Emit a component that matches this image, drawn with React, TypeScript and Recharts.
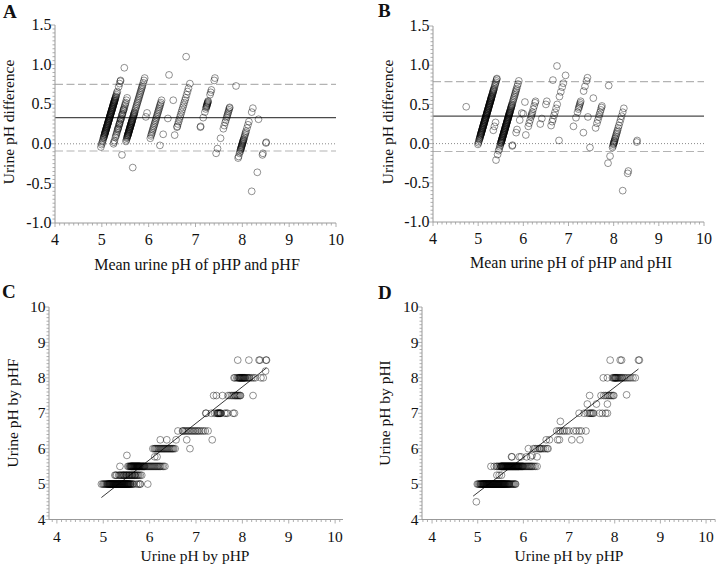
import React from 'react';
import { ScatterChart, Scatter, XAxis, YAxis, ReferenceLine } from 'recharts';

const SERIF = '"Liberation Serif", "Times New Roman", Times, serif';

// Paired readings. Each row: [reading of the second method, [pHP readings paired with it]].
// Panels A and C show pHP vs pHF; panels B and D show pHP vs pHI.

// ---------------- pHP vs pHF ----------------
const rowsPHF: [number, number[]][] = [
  [5.0, [4.96, 4.99, 5.01, 5.03, 5.05, 5.07, 5.08, 5.09,
    5.1, 5.11, 5.12, 5.13, 5.14, 5.15, 5.16, 5.17, 5.18, 5.19,
    5.2, 5.21, 5.22, 5.23, 5.24, 5.25, 5.26, 5.27, 5.28, 5.29,
    5.3, 5.31, 5.32, 5.33, 5.34, 5.35, 5.36, 5.37, 5.38, 5.39,
    5.4, 5.41, 5.42, 5.43, 5.44, 5.45, 5.46, 5.47, 5.48, 5.49,
    5.5, 5.51, 5.52, 5.53, 5.54, 5.55, 5.56, 5.57, 5.58, 5.59, 5.6,
    5.125, 5.145, 5.165, 5.185, 5.205, 5.225, 5.245, 5.265, 5.285, 5.305, 5.325,
    5.345, 5.365, 5.385, 5.405, 5.425, 5.445, 5.465, 5.485, 5.505, 5.525, 5.545,
    5.62, 5.64, 5.66, 5.72, 5.76, 5.79, 5.8, 5.96]],
  [5.25, [5.25, 5.27, 5.29, 5.33, 5.35, 5.37, 5.39, 5.41, 5.43, 5.45, 5.47, 5.49, 5.51, 5.53, 5.55, 5.57,
    5.59, 5.61, 5.63, 5.65, 5.67, 5.69, 5.71, 5.73, 5.75, 5.77, 5.8, 5.83, 5.44, 5.5, 5.56, 5.62, 5.68]],
  [5.5, [5.36, 5.53, 5.55, 5.57, 5.58, 5.59, 5.6, 5.61, 5.62, 5.63, 5.64, 5.65, 5.66, 5.67, 5.68, 5.69,
    5.7, 5.71, 5.72, 5.73, 5.74, 5.75, 5.76, 5.77, 5.78, 5.79, 5.8, 5.81, 5.82, 5.83, 5.84, 5.85, 5.86,
    5.87, 5.88, 5.89, 5.9, 5.92, 5.94, 5.96, 5.98, 6.0, 6.02, 6.04, 6.06, 6.08, 6.1, 6.12, 6.14, 6.16,
    6.18, 6.2, 6.22, 6.24, 6.27, 6.3, 6.33,
    5.605, 5.625, 5.645, 5.665, 5.685, 5.705, 5.725, 5.745, 5.765, 5.785]],
  [5.77, [6.11, 6.16]],
  [5.81, [5.51]],
  [6.0, [6.07, 6.1, 6.12, 6.14, 6.16, 6.18, 6.2, 6.22, 6.24, 6.26, 6.28, 6.3, 6.32, 6.34, 6.36, 6.38,
    6.4, 6.42, 6.44, 6.46, 6.48, 6.5, 6.52, 6.55, 6.87]],
  [6.25, [6.23, 6.37, 6.57, 6.8, 7.35]],
  [6.5, [6.61, 6.71, 6.72, 6.75, 6.78, 6.81, 6.84, 6.87, 6.9, 6.93, 6.96, 6.99, 7.02, 7.05, 7.08, 7.12,
    7.16, 7.2, 7.26]],
  [7.0, [7.21, 7.22, 7.33, 7.4, 7.44, 7.46, 7.47, 7.48, 7.49, 7.5, 7.51, 7.52, 7.53, 7.54, 7.62, 7.65,
    7.68, 7.8, 7.83]],
  [7.5, [7.38, 7.44, 7.57, 7.69, 7.73, 7.77, 7.8, 7.83, 7.85, 7.87, 7.89, 7.91, 7.93, 7.95, 7.96, 8.23]],
  [8.0, [7.82, 7.84, 7.88, 7.9, 7.92, 7.93, 7.94, 7.95, 7.96, 7.97, 7.98, 7.99, 8.0, 8.01, 8.02, 8.03,
    8.04, 8.05, 8.06, 8.08, 8.1, 8.12, 8.14, 8.16, 8.2, 8.24, 8.28, 8.4, 8.45]],
  [8.19, [8.5]],
  [8.5, [7.9, 8.14, 8.36, 8.38, 8.51, 8.52]],
];
const limitsA = [0.33, 0.75, -0.09]; // mean difference, upper limit, lower limit
const fitC = [[4.96, 4.62], [8.52, 8.28]]; // regression line end points

// ---------------- pHP vs pHI ----------------
const rowsPHI: [number, number[]][] = [
  [4.5, [4.97]],
  [5.0, [4.99, 5.01, 5.03,
    5.05, 5.06, 5.07, 5.08, 5.09, 5.1, 5.11, 5.12, 5.13, 5.14, 5.15, 5.16, 5.17, 5.18, 5.19,
    5.2, 5.21, 5.22, 5.23, 5.24, 5.25, 5.26, 5.27, 5.28, 5.29, 5.3, 5.31, 5.32, 5.33, 5.34, 5.35,
    5.36, 5.37, 5.38, 5.39, 5.4, 5.41, 5.42, 5.43, 5.44, 5.45, 5.46, 5.47, 5.48, 5.49, 5.5, 5.51,
    5.52, 5.53, 5.54, 5.55, 5.56, 5.57, 5.58, 5.59, 5.6, 5.61, 5.62, 5.63, 5.64, 5.65, 5.66, 5.67,
    5.68, 5.69, 5.7,
    5.115, 5.135, 5.155, 5.175, 5.195, 5.215, 5.235, 5.255, 5.275, 5.295, 5.315, 5.335, 5.355,
    5.375, 5.395, 5.415, 5.435, 5.455, 5.475, 5.495, 5.515, 5.535, 5.555, 5.575, 5.595,
    5.72, 5.74, 5.76, 5.78, 5.8, 5.82, 5.83]],
  [5.25, [5.42, 5.47, 5.52]],
  [5.5, [5.29, 5.36, 5.41, 5.43, 5.46, 5.48,
    5.5, 5.51, 5.52, 5.53, 5.54, 5.55, 5.56, 5.57, 5.58, 5.59, 5.6, 5.61, 5.62, 5.63, 5.64, 5.65,
    5.66, 5.67, 5.68, 5.69, 5.7, 5.71, 5.72, 5.73, 5.74, 5.75, 5.76, 5.77, 5.78, 5.79, 5.8, 5.81,
    5.82, 5.83, 5.84, 5.85, 5.86, 5.87, 5.88, 5.89, 5.9, 5.91, 5.92, 5.93, 5.94, 5.95, 5.96, 5.97,
    5.98, 5.99, 6.0, 6.02, 6.04, 6.06, 6.08, 6.1,
    5.515, 5.535, 5.555, 5.575, 5.595, 5.615, 5.635, 5.655, 5.675, 5.695, 5.715, 5.735, 5.755,
    5.775, 5.795, 5.815, 5.835, 5.855, 5.875, 5.895,
    6.12, 6.14, 6.16, 6.18, 6.2, 6.23, 6.26, 6.3]],
  [5.77, [5.74, 5.75, 5.91, 5.95, 6.07, 6.16, 6.3]],
  [5.81, [6.19]],
  [6.0, [6.11, 6.22, 6.26, 6.3, 6.34, 6.36, 6.38, 6.4, 6.44, 6.48, 6.52, 6.54]],
  [6.25, [6.5, 6.57, 6.75, 6.79, 7.06, 7.24]],
  [6.5, [6.73, 6.78, 6.81, 6.86, 6.9, 6.95, 7.0, 7.1, 7.16, 7.22, 7.27, 7.37]],
  [6.77, [6.81]],
  [7.0, [7.22, 7.33, 7.4, 7.44, 7.46, 7.48, 7.5, 7.52, 7.54, 7.67, 7.73, 7.8, 7.84]],
  [7.26, [7.4, 7.6, 7.84]],
  [7.5, [7.45, 7.7, 7.76, 7.8, 7.84, 7.87, 7.9, 7.93, 7.96, 7.98]],
  [7.52, [8.26]],
  [8.0, [7.75, 7.84, 7.95, 7.97, 7.99, 8.0, 8.01, 8.02, 8.03, 8.04, 8.06, 8.07, 8.09, 8.11, 8.13,
    8.15, 8.17, 8.2, 8.23, 8.27, 8.31, 8.35, 8.4, 8.45]],
  [8.5, [7.9, 8.12, 8.15, 8.52, 8.54]],
];
const limitsB = [0.35, 0.79, -0.1];
const fitD = [[4.9, 4.66], [8.52, 8.25]];

// ---------------- tick positions ----------------
const range = (from: number, to: number, step: number) => {
  const out: number[] = [];
  const n = Math.round((to - from) / step);
  for (let i = 0; i <= n; i++) out.push(+(from + i * step).toFixed(3));
  return out;
};
const xMinorAB = range(4, 10, 0.1);
const yMinorAB = range(-1, 1.5, 0.05);
const xMinorC = range(3.9, 10.1, 0.1);
const xMinorD = range(3.8, 10.2, 0.1);
const yMinorCD = range(4, 10, 0.1);

// scatter table (x = pHP, y = other method)
const rowsToData = (rows: [number, number[]][]) => rows.flatMap(([y, xs]) => xs.map((x) => ({ x, y })));
// Bland-Altman table (x = mean of both, y = pHP minus other method)
const rowsToBA = (rows: [number, number[]][]) =>
  rows.flatMap(([ref, xs]) => xs.map((p) => ({ x: (p + ref) / 2, y: p - ref })));

const isMult = (v: number, step: number) => Math.abs(v / step - Math.round(v / step)) < 1e-6;

const AXIS = '#9a9a9a';

const makeXTick = (step: number, fontSize: number, fmt: (v: number) => string) => (p: any) => {
  const v = p.payload.value;
  const major = isMult(v, step);
  return (
    <g>
      <line x1={p.x} x2={p.x} y1={p.y} y2={p.y + (major ? 4 : 2.5)} stroke={AXIS} strokeWidth={0.8} />
      {major && (
        <text x={p.x} y={p.y + 22} textAnchor="middle" fontFamily={SERIF} fontSize={fontSize} fill="#111">
          {fmt(v)}
        </text>
      )}
    </g>
  );
};

const makeYTick = (step: number, fontSize: number, fmt: (v: number) => string) => (p: any) => {
  const v = p.payload.value;
  const major = isMult(v, step);
  return (
    <g>
      <line x1={p.x} x2={p.x - (major ? 4 : 2.5)} y1={p.y} y2={p.y} stroke={AXIS} strokeWidth={0.8} />
      {major && (
        <text x={p.x - 3.5} y={p.y + fontSize * 0.33} textAnchor="end" fontFamily={SERIF} fontSize={fontSize} fill="#111">
          {fmt(v)}
        </text>
      )}
    </g>
  );
};

const Ring = (p: any) => (
  <circle cx={p.cx} cy={p.cy} r={3.4} fill="none" stroke="#000" strokeOpacity={0.48} strokeWidth={0.9} />
);

type PanelProps = {
  left: number;
  top: number;
  width: number;
  height: number;
  margin: { top: number; right: number; bottom: number; left: number };
  yWidth: number;
  xDomain: [number, number];
  yDomain: [number, number];
  xTicks: number[];
  yTicks: number[];
  yStep: number;
  yFmt: (v: number) => string;
  fontSize: number;
  data: { x: number; y: number }[];
  children?: React.ReactNode;
};

function Panel(props: PanelProps) {
  const { left, top, width, height, margin, yWidth, xDomain, yDomain, xTicks, yTicks, yStep, yFmt, fontSize, data, children } = props;
  return (
    <div style={{ position: 'absolute', left, top, width, height }}>
      <ScatterChart width={width} height={height} margin={margin}>
        <XAxis
          type="number"
          dataKey="x"
          domain={xDomain}
          ticks={xTicks}
          interval={0}
          allowDataOverflow
          tickLine={false}
          tickSize={0}
          tickMargin={0}
          height={30}
          axisLine={{ stroke: AXIS, strokeWidth: 1 }}
          tick={makeXTick(1, fontSize, (v) => String(v))}
        />
        <YAxis
          type="number"
          dataKey="y"
          domain={yDomain}
          ticks={yTicks}
          interval={0}
          allowDataOverflow
          tickLine={false}
          tickSize={0}
          tickMargin={0}
          width={yWidth}
          axisLine={{ stroke: AXIS, strokeWidth: 1 }}
          tick={makeYTick(yStep, fontSize, yFmt)}
        />
        {children}
        <Scatter data={data} shape={Ring} isAnimationActive={false} />
      </ScatterChart>
    </div>
  );
}

const baLines = (lim: number[]) => [
  <ReferenceLine key="z" y={0} stroke="#8a8a8a" strokeDasharray="1 2" strokeWidth={1} />,
  <ReferenceLine key="u" y={lim[1]} stroke="#b3b3b3" strokeDasharray="8 3.5" strokeWidth={1.1} />,
  <ReferenceLine key="l" y={lim[2]} stroke="#b3b3b3" strokeDasharray="8 3.5" strokeWidth={1.1} />,
  <ReferenceLine key="m" y={lim[0]} stroke="#4a4a4a" strokeWidth={1.1} />,
];

const fitLine = (f: number[][]) => (
  <ReferenceLine
    segment={[{ x: f[0][0], y: f[0][1] }, { x: f[1][0], y: f[1][1] }]}
    stroke="#222"
    strokeWidth={0.9}
  />
);

export default function App() {
  const fmt1 = (v: number) => v.toFixed(1);
  const fmt0 = (v: number) => String(v);
  return (
    <div
      style={{
        position: 'absolute',
        left: 0,
        top: 0,
        width: 716,
        height: 567,
        background: '#fff',
        overflow: 'hidden',
      }}
    >
      <Panel
        left={0}
        top={0}
        width={360}
        height={285}
        margin={{ top: 25, right: 24, bottom: 32, left: 0 }}
        yWidth={55}
        xDomain={[4, 10]}
        yDomain={[-1, 1.5]}
        xTicks={xMinorAB}
        yTicks={yMinorAB}
        yStep={0.5}
        yFmt={fmt1}
        fontSize={16}
        data={rowsToBA(rowsPHF)}
      >
        {baLines(limitsA)}
      </Panel>
      <Panel
        left={356}
        top={0}
        width={360}
        height={285}
        margin={{ top: 26, right: 12, bottom: 33, left: 0 }}
        yWidth={77}
        xDomain={[4, 10]}
        yDomain={[-1, 1.5]}
        xTicks={xMinorAB}
        yTicks={yMinorAB}
        yStep={0.5}
        yFmt={fmt1}
        fontSize={16}
        data={rowsToBA(rowsPHI)}
      >
        {baLines(limitsB)}
      </Panel>
      <Panel
        left={0}
        top={280}
        width={360}
        height={287}
        margin={{ top: 27, right: 17, bottom: 17.5, left: 0 }}
        yWidth={49}
        xDomain={[3.83, 10.17]}
        yDomain={[4, 10]}
        xTicks={xMinorC}
        yTicks={yMinorCD}
        yStep={1}
        yFmt={fmt0}
        fontSize={15.5}
        data={rowsToData(rowsPHF)}
      >
        {fitLine(fitC)}
      </Panel>
      <Panel
        left={356}
        top={280}
        width={360}
        height={287}
        margin={{ top: 27, right: 0.8, bottom: 17.5, left: 0 }}
        yWidth={66}
        xDomain={[3.78, 10.2]}
        yDomain={[4, 10]}
        xTicks={xMinorD}
        yTicks={yMinorCD}
        yStep={1}
        yFmt={fmt0}
        fontSize={15.5}
        data={rowsToData(rowsPHI)}
      >
        {fitLine(fitD)}
      </Panel>

      <svg
        width={716}
        height={567}
        style={{ position: 'absolute', left: 0, top: 0, pointerEvents: 'none' }}
        fontFamily={SERIF}
        fill="#111"
      >
        <text x={3} y={18} fontSize={19} fontWeight="bold">A</text>
        <text x={378} y={17} fontSize={19} fontWeight="bold">B</text>
        <text x={2} y={298} fontSize={19} fontWeight="bold">C</text>
        <text x={378} y={299} fontSize={19} fontWeight="bold">D</text>

        <text transform="translate(14,122) rotate(-90)" textAnchor="middle" fontSize={15.5}>Urine pH difference</text>
        <text transform="translate(393,122) rotate(-90)" textAnchor="middle" fontSize={15.5}>Urine pH difference</text>
        <text transform="translate(17.5,413) rotate(-90)" textAnchor="middle" fontSize={15.5}>Urine pH by pHF</text>
        <text transform="translate(390,413) rotate(-90)" textAnchor="middle" fontSize={15.5}>Urine pH by pHI</text>

        <text x={197} y={270} textAnchor="middle" fontSize={16}>Mean urine pH  of pHP and pHF</text>
        <text x={571} y={268} textAnchor="middle" fontSize={16}>Mean urine pH of pHP and pHI</text>
        <text x={195} y={561} textAnchor="middle" fontSize={15.5}>Urine pH by pHP</text>
        <text x={569} y={561} textAnchor="middle" fontSize={15.5}>Urine pH by pHP</text>
      </svg>
    </div>
  );
}
